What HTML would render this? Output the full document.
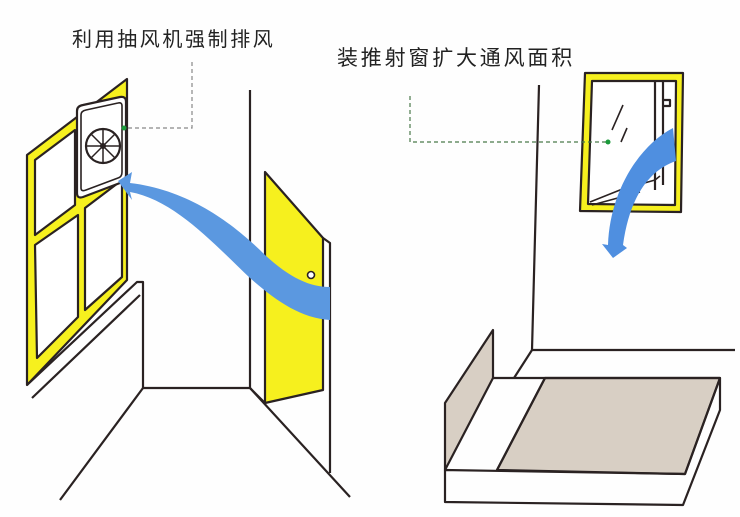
<!DOCTYPE html>
<html><head><meta charset="utf-8"><style>
html,body{margin:0;padding:0;background:#fff;}
svg{display:block}
text{font-family:"Liberation Sans","Noto Sans CJK SC","WenQuanYi Zen Hei",sans-serif;fill:#222}
</style></head><body>
<svg width="740" height="517" viewBox="0 0 740 517" xmlns="http://www.w3.org/2000/svg">
<rect width="740" height="517" fill="#fefefe"/>
<text x="72" y="46" font-size="20" letter-spacing="2.6">利用抽风机强制排风</text>
<text x="337" y="65" font-size="21" letter-spacing="2.8">装推射窗扩大通风面积</text>

<g stroke="#2a2222" stroke-width="2.2" fill="none" stroke-linejoin="round">
<!-- left window -->
<polygon points="27,155 127,79 127,280 27,385" fill="#f6f01e"/>
<polygon points="35,160 75,130 75,205 35,235" fill="#fff"/>
<polygon points="35,245 78,215 78,317 37,358" fill="#fff"/>
<polygon points="85,208 122,180 122,277 85,310" fill="#fff"/>
<!-- fan box -->
<path d="M83,105 L120,97 Q126,96 126,102 L126,175 Q126,181 120,183 L83,197 Q77,199 77,193 L77,111 Q77,106 83,105 Z" fill="#fff"/>
<path d="M86,110 L118,103 Q122,102 122,106 L122,172 Q122,177 118,178 L86,190 Q81,192 81,188 L81,115 Q81,111 86,110 Z" fill="#fff" stroke-width="1.6"/>
<circle cx="103" cy="146" r="17" fill="#fff"/>
<path d="M103,129 L103,163 M86,146 L120,146 M91,134 L115,158 M115,134 L91,158" stroke-width="1.5"/>
<circle cx="103" cy="146" r="3" fill="#2a2222" stroke="none"/>
<!-- sill & room -->
<path d="M27,385 L137,282 L143,282 L143,388 L250,388 L250,90"/>
<path d="M32,398 L140,295"/>
<path d="M143,388 L60,500 M250,388 L350,497"/>
<!-- door -->
<polygon points="265,172 323,238 323,390 265,403" fill="#f6f01e"/>
<path d="M323,238 L330,243 L330,473 M250,388 L265,403"/>
<circle cx="311" cy="275" r="3.5" fill="#fff" stroke-width="1.6"/>
</g>
<!-- left dashed -->
<path d="M192,62 L192,128 L125,128" stroke="#888" stroke-width="1.2" stroke-dasharray="4,3" fill="none"/>
<circle cx="124" cy="128" r="2.5" fill="#1a9a3a"/>
<!-- left blue arrow -->
<path d="M130,183 C190,190 235,225 265,255 C290,278 310,287 330,287 L330,320 C300,318 275,300 250,278 C215,245 175,200 130,192 L132,200 L118,181 L132,172 Z" fill="#5b98e0"/>

<!-- right scene -->
<g stroke="#2a2222" stroke-width="2.2" fill="none" stroke-linejoin="round">
<path d="M539,85 L532,350 L735,350"/>
<path d="M532,350 L514,378"/>
<polygon points="585,73 683,73 681,212 580,211" fill="#f6f01e"/>
<polygon points="592,81 676,81 675,205 588,204" fill="#fff"/>
<path d="M655,82 L655,190 M663,82 L663,185 M663,100 L670,100 L670,106 L663,106"/>
<path d="M590,202 L620,190 L655,180 L660,176" stroke-width="1.6"/>
<path d="M592,205 L640,192" stroke-width="1.6"/>
<path d="M623,105 L612,130 M627,128 L621,142" stroke-width="1.6"/>
<!-- bed -->
<polygon points="493,330 493,378 445,470 445,403" fill="#d8cfc4"/>
<polygon points="545,378 720,378 685,474 497,470" fill="#d8cfc4"/>
<path d="M493,378 L720,378 L685,474 L445,470 L445,502 L683,505 L720,410 L720,378"/>
<path d="M545,378 L497,470"/>
</g>
<path d="M410,96 L410,142 L606,142" stroke="#4a7a4a" stroke-width="1.2" stroke-dasharray="4,3" fill="none"/>
<circle cx="608" cy="142" r="2.5" fill="#1a9a3a"/>
<!-- right blue arrow -->
<path d="M673,128 L676,161 C650,170 630,195 623,245 L627,248 L613,258 L602,244 L608,245 C610,190 640,145 673,128 Z" fill="#4f8fe0"/>
</svg>
</body></html>
